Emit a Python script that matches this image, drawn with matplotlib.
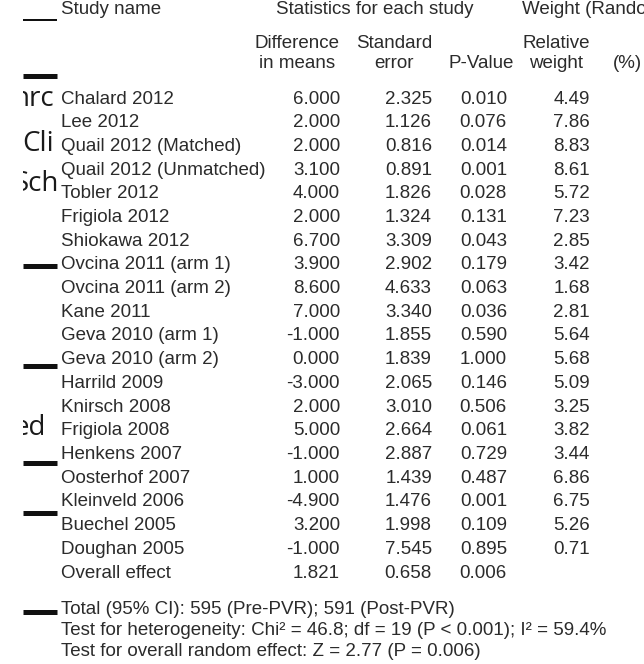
import matplotlib.pyplot as plt
from matplotlib.transforms import Bbox, TransformedBbox

# Per-study statistics (difference in means, SE, p, random-effects weight %)
studies = ["Chalard 2012", "Lee 2012", "Quail 2012 (Matched)", "Quail 2012 (Unmatched)",
           "Tobler 2012", "Frigiola 2012", "Shiokawa 2012", "Ovcina 2011 (arm 1)",
           "Ovcina 2011 (arm 2)", "Kane 2011", "Geva 2010 (arm 1)", "Geva 2010 (arm 2)",
           "Harrild 2009", "Knirsch 2008", "Frigiola 2008", "Henkens 2007",
           "Oosterhof 2007", "Kleinveld 2006", "Buechel 2005", "Doughan 2005"]
diff_means = [6.000, 2.000, 2.000, 3.100, 4.000, 2.000, 6.700, 3.900, 8.600, 7.000,
              -1.000, 0.000, -3.000, 2.000, 5.000, -1.000, 1.000, -4.900, 3.200, -1.000]
std_err = [2.325, 1.126, 0.816, 0.891, 1.826, 1.324, 3.309, 2.902, 4.633, 3.340,
           1.855, 1.839, 2.065, 3.010, 2.664, 2.887, 1.439, 1.476, 1.998, 7.545]
p_values = [0.010, 0.076, 0.014, 0.001, 0.028, 0.131, 0.043, 0.179, 0.063, 0.036,
            0.590, 1.000, 0.146, 0.506, 0.061, 0.729, 0.487, 0.001, 0.109, 0.895]
rel_weight = [4.49, 7.86, 8.83, 8.61, 5.72, 7.23, 2.85, 3.42, 1.68, 2.81,
              5.64, 5.68, 5.09, 3.25, 3.82, 3.44, 6.86, 6.75, 5.26, 0.71]
overall = (1.821, 0.658, 0.006)

footer = ["Total (95% CI): 595 (Pre-PVR); 591 (Post-PVR)",
          "Test for heterogeneity: Chi\u00b2 = 46.8; df = 19 (P < 0.001); I\u00b2 = 59.4%",
          "Test for overall random effect: Z = 2.77 (P = 0.006)"]

# stray fragments cut off at the left margin
margin_bars = [(20, 2.0), (76, 5.0), (266, 5.0), (366, 5.0), (463, 5.0), (513, 5.0), (612, 5.0)]
margin_words = [("nrc", 13, 99), ("Cli", 22, 144), ("Sch", 14, 184), ("ed", 14, 428)]

W, H = 644, 664
plt.rcParams['font.family'] = ['Liberation Sans', 'DejaVu Sans']
fig = plt.figure(figsize=(W / 100, H / 100), dpi=100)
ax = fig.add_axes([0, 0, 1, 1])
ax.set_xlim(0, W)
ax.set_ylim(H, 0)
ax.axis('off')

ink = '#2b2b2b'
fs = 13.5
x_name, x_diff, x_se, x_p, x_w = 61, 340, 432, 507, 590

# headers
ax.text(x_name, 9, "Study name", fontsize=fs, color=ink, va='center')
ax.text(375, 9, "Statistics for each study", fontsize=fs, color=ink, va='center', ha='center')
ax.text(522, 9, "Weight (Random)", fontsize=fs, color=ink, va='center', clip_on=True)
for cx, top, bottom in [(297, "Difference", "in means"), (394, "Standard", "error"),
                        (481, "", "P-Value"), (556, "Relative", "weight")]:
    if top:
        ax.text(cx, 43, top, fontsize=fs, color=ink, va='center', ha='center')
    ax.text(cx, 63, bottom, fontsize=fs, color=ink, va='center', ha='center')
ax.text(613, 63, "(%)", fontsize=fs, color=ink, va='center')

# study rows
y0, dy = 99, 23.7
for i, name in enumerate(studies):
    y = y0 + i * dy
    ax.text(x_name, y, name, fontsize=fs, color=ink, va='center')
    ax.text(x_diff, y, f"{diff_means[i]:.3f}", fontsize=fs, color=ink, va='center', ha='right')
    ax.text(x_se, y, f"{std_err[i]:.3f}", fontsize=fs, color=ink, va='center', ha='right')
    ax.text(x_p, y, f"{p_values[i]:.3f}", fontsize=fs, color=ink, va='center', ha='right')
    ax.text(x_w, y, f"{rel_weight[i]:.2f}", fontsize=fs, color=ink, va='center', ha='right')

y = y0 + len(studies) * dy
ax.text(x_name, y, "Overall effect", fontsize=fs, color=ink, va='center')
for xr, v in zip([x_diff, x_se, x_p], overall):
    ax.text(xr, y, f"{v:.3f}", fontsize=fs, color=ink, va='center', ha='right')

# summary lines
for j, line in enumerate(footer):
    ax.text(x_name, 610 + j * 20.5, line, fontsize=fs, color=ink, va='center')

# left margin fragments, cropped to a narrow strip
strip = TransformedBbox(Bbox([[23, 0], [57, H]]), ax.transData)
for yb, lw in margin_bars:
    ax.plot([23, 57], [yb, yb], color='#111111', lw=lw * 0.72, solid_capstyle='butt')
for word, xl, yw in margin_words:
    t = ax.text(xl, yw, word, fontsize=20, color='#1a1a1a', va='center',
                family=['Open Sans', 'DejaVu Sans'])
    t.set_clip_on(True)
    t.set_clip_box(strip)

fig.savefig('out.png', dpi=100)
